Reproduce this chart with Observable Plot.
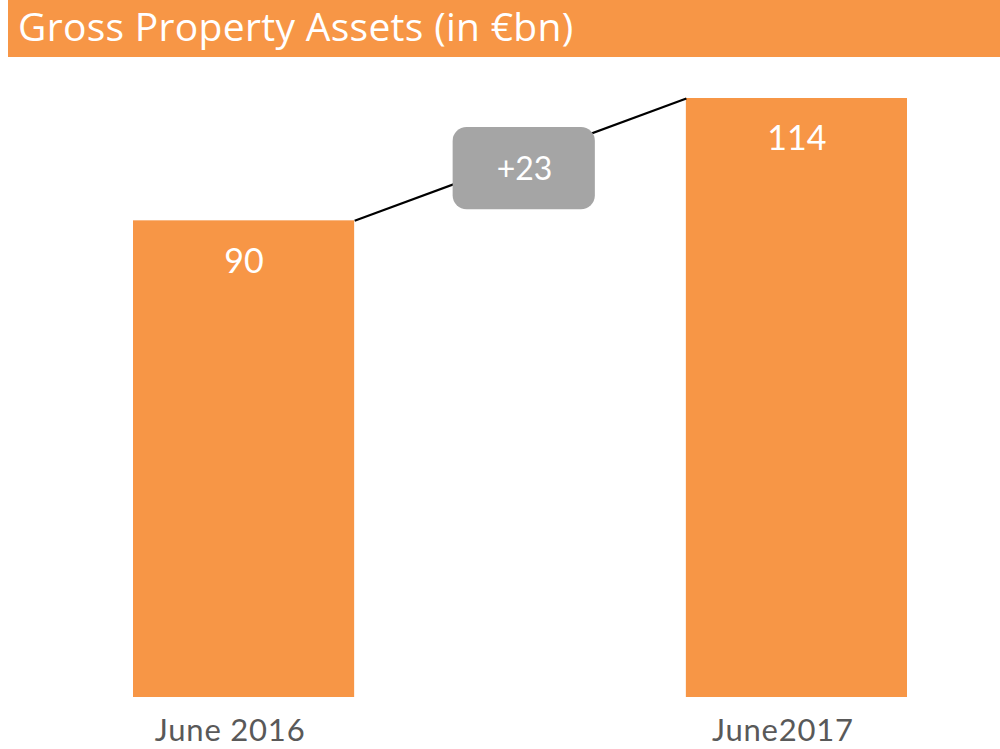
<!DOCTYPE html>
<html>
<head>
<meta charset="utf-8">
<script src="https://cdn.jsdelivr.net/npm/d3@7"></script>
<script src="https://cdn.jsdelivr.net/npm/@observablehq/plot@0.6"></script>
<style>
  html, body { margin: 0; padding: 0; background: #ffffff; }
  #title {
    margin-left: 8px;
    height: 57px;
    box-sizing: border-box;
    padding-left: 10px;
    background: #F79646;
    color: #ffffff;
    font-family: "Open Sans", Lato, sans-serif;
    font-size: 39px;
    letter-spacing: 0.3px;
    line-height: 52px;
    white-space: nowrap;
    overflow: hidden;
  }
  #chart svg { display: block; }
  #chart svg .cat text { letter-spacing: 0.8px; }
</style>
</head>
<body>
<div id="title">Gross Property Assets (in €bn)</div>
<div id="chart"></div>
<script>
// Data
const periods = ["June 2016", "June2017"];
const assets = [90.4, 113.6];

const orange = "#F79646";
const grey = "#A5A5A5";
const half = 0.2; // half bar width in index units

const bars = periods.map((p, i) => ({i, period: p, value: assets[i]}));
const change = [{
  from: 0, to: 1,
  v0: assets[0], v1: assets[1],
  label: (assets[1] - assets[0] >= 0 ? "+" : "") + Math.round(assets[1] - assets[0])
}];

const chart = Plot.plot({
  width: 1000,
  height: 692,
  marginLeft: 133,
  marginRight: 93,
  marginTop: 41,
  marginBottom: 52,
  style: {fontFamily: "Lato, 'Open Sans', sans-serif", background: "#ffffff"},
  x: {type: "linear", domain: [-half, periods.length - 1 + half], axis: null},
  y: {domain: [0, d3.max(assets)], axis: null},
  marks: [
    Plot.rectY(bars, {
      x1: d => d.i - half, x2: d => d.i + half,
      y1: 0, y2: "value", fill: orange
    }),
    Plot.link(change, {
      x1: d => d.from + half, x2: d => d.to - half,
      y1: "v0", y2: "v1", stroke: "#000000", strokeWidth: 2.2
    }),
    Plot.rect(change, {
      x1: d => d.from + half, x2: d => d.to - half,
      y1: "v0", y2: "v1",
      insetLeft: 98.5, insetRight: 91, insetTop: 29, insetBottom: 11,
      rx: 14, fill: grey
    }),
    Plot.text(change, {
      x: d => (d.from + d.to) / 2, y: d => (d.v0 + d.v1) / 2,
      text: "label", dx: 4, dy: 10, fontSize: 32, fill: "#ffffff", lineAnchor: "middle"
    }),
    Plot.text(bars, {
      x: "i", y: "value", text: d => String(Math.round(d.value)),
      dy: 41, fontSize: 34, fill: "#ffffff", lineAnchor: "middle"
    }),
    Plot.text(bars, {
      x: "i", text: "period", frameAnchor: "bottom", className: "cat",
      dx: -14, dy: 34, fontSize: 31, fill: "#595959", lineAnchor: "middle"
    })
  ]
});
document.getElementById("chart").appendChild(chart);
</script>
</body>
</html>
